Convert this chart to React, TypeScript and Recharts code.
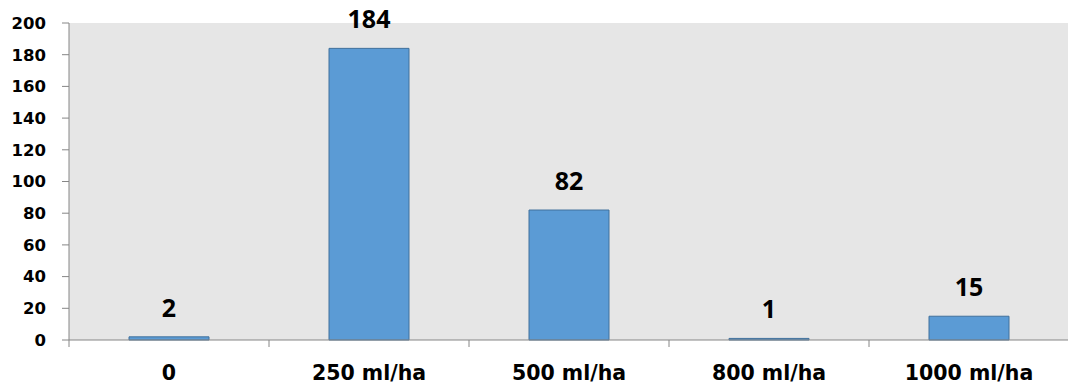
import { BarChart, Bar, XAxis, YAxis, CartesianGrid, LabelList } from "recharts"

const doses = ["0", "250 ml/ha", "500 ml/ha", "800 ml/ha", "1000 ml/ha"]
const counts = [2, 184, 82, 1, 15]
const yTicks = [0, 20, 40, 60, 80, 100, 120, 140, 160, 180, 200]

const data = doses.map((dose, i) => ({ dose, count: counts[i] }))

const axisColor = "#868686"
const axisFont = "'DejaVu Sans', sans-serif"

// category ticks sit on the band edges, labels stay centred
const DoseTick = ({ x, y, payload }: any) => {
  const half = payload?.offset ?? 100
  return (
    <g>
      <line x1={x - half} y1={y} x2={x - half} y2={y + 7} stroke={axisColor} strokeWidth={1} />
      <text
        x={x}
        y={y + 40}
        textAnchor="middle"
        fontFamily={axisFont}
        fontWeight={700}
        fontSize={20.5}
        fill="#000"
      >
        {payload.value}
      </text>
    </g>
  )
}

export default function App() {
  return (
    <div style={{ position: "absolute", left: 0, top: 0, width: 1068, height: 388, overflow: "hidden", background: "#fff" }}>
      <BarChart
        width={1070}
        height={388}
        data={data}
        margin={{ top: 23, right: 1, left: 0, bottom: 0 }}
        barCategoryGap="30%"
      >
        <CartesianGrid fill="#e6e6e6" stroke="none" horizontal={false} vertical={false} />
        <XAxis
          dataKey="dose"
          height={48}
          interval={0}
          tickSize={0}
          tickMargin={0}
          tickLine={false}
          axisLine={{ stroke: axisColor }}
          tick={<DoseTick />}
        />
        <YAxis
          width={69}
          domain={[0, 200]}
          ticks={yTicks}
          interval={0}
          tickSize={7}
          tickMargin={16}
          axisLine={{ stroke: axisColor }}
          tickLine={{ stroke: axisColor }}
          tick={{ fontFamily: axisFont, fontWeight: 700, fontSize: 16.5, fill: "#000" }}
        />
        <Bar dataKey="count" fill="#5b9bd5" stroke="#41719c" strokeWidth={1} isAnimationActive={false}>
          <LabelList
            dataKey="count"
            position="top"
            offset={20}
            fill="#000"
            fontFamily="'Open Sans', sans-serif"
            fontWeight={700}
            fontSize={25}
          />
        </Bar>
      </BarChart>
    </div>
  )
}
